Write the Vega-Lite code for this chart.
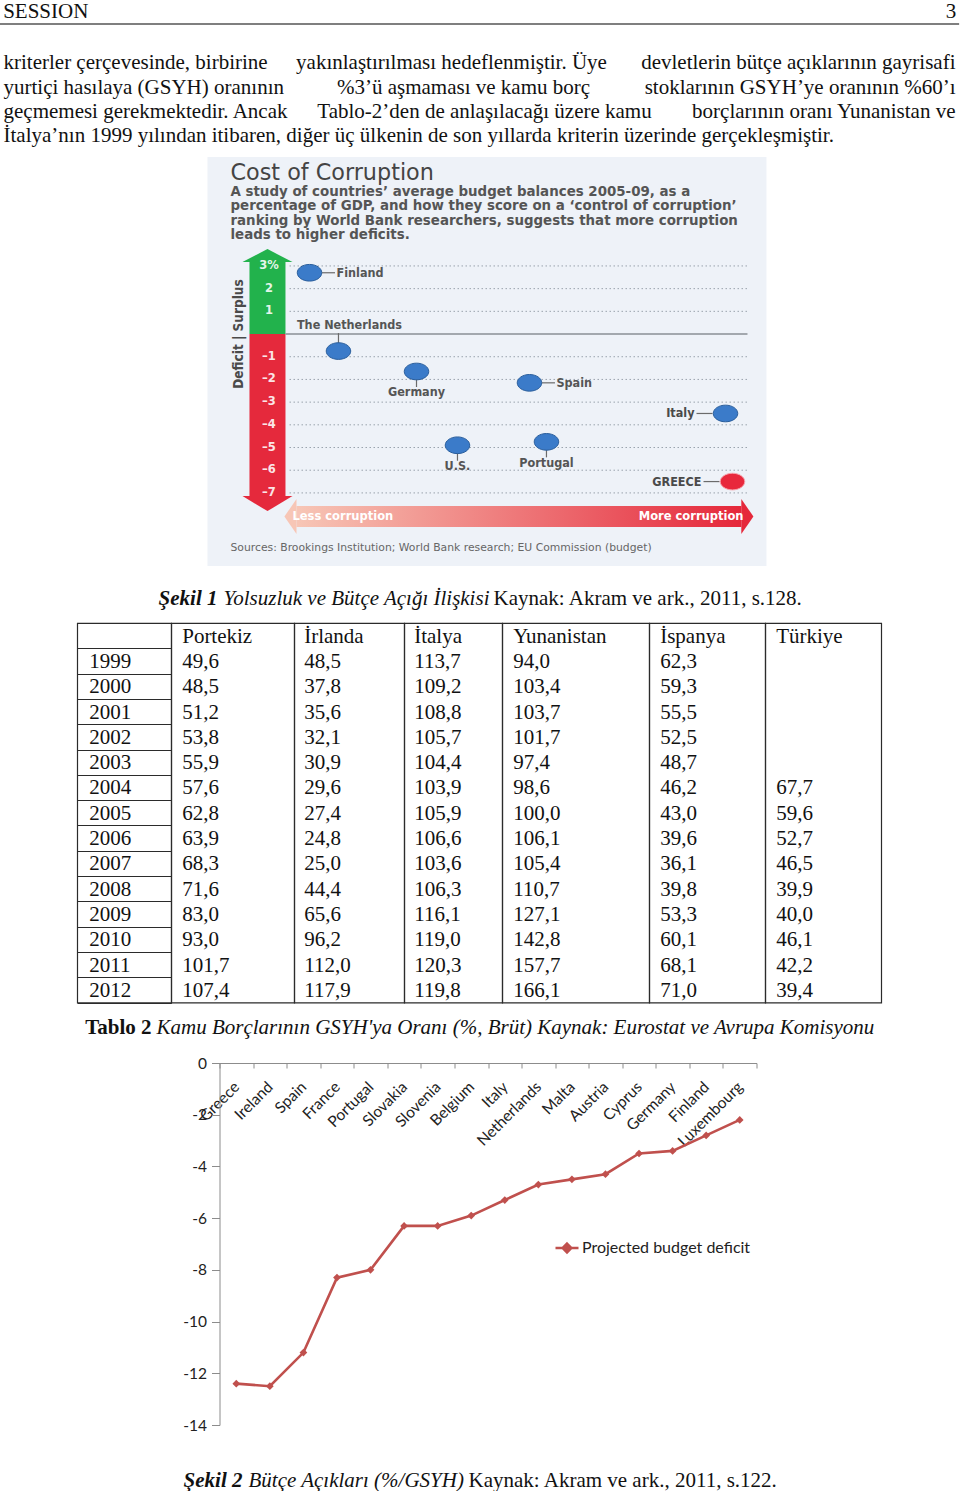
{
"$schema": "https://vega.github.io/schema/vega-lite/v6.json",
"padding": {"left": -6, "top": 0, "right": 0, "bottom": 0},
"background": "#ffffff",
"spacing": 0,
"center": true,
"config": {"view": {"stroke": null}, "locale": {"number": {"decimal": ",", "thousands": ".", "grouping": [3], "currency": ["", " TL"]}}},
"datasets": {
 "paraLeft": [
  {"line": 1, "text": "kriterler çerçevesinde, birbirine"},
  {"line": 2, "text": "yurtiçi hasılaya (GSYH) oranının"},
  {"line": 3, "text": "geçmemesi gerekmektedir. Ancak"},
  {"line": 4, "text": "İtalya’nın 1999 yılından itibaren, diğer üç ülkenin de son yıllarda kriterin üzerinde gerçekleşmiştir."}
 ],
 "paraMid": [
  {"line": 1, "text": "yakınlaştırılması hedeflenmiştir. Üye"},
  {"line": 2, "text": "%3’ü aşmaması ve kamu borç"},
  {"line": 3, "text": "Tablo-2’den de anlaşılacağı üzere kamu"}
 ],
 "paraRight": [
  {"line": 1, "text": "devletlerin bütçe açıklarının gayrisafi"},
  {"line": 2, "text": "stoklarının GSYH’ye oranının %60’ı"},
  {"line": 3, "text": "borçlarının oranı Yunanistan ve"}
 ],
 "ticks": [
  {"v": 3, "label": "3%"}, {"v": 2, "label": "2"}, {"v": 1, "label": "1"},
  {"v": -1, "label": "–1"}, {"v": -2, "label": "–2"}, {"v": -3, "label": "–3"},
  {"v": -4, "label": "–4"}, {"v": -5, "label": "–5"}, {"v": -6, "label": "–6"}, {"v": -7, "label": "–7"}
 ],
 "corr": [
  {"country": "Finland", "rank": 18.25, "balance": 2.7},
  {"country": "The Netherlands", "rank": 23.43, "balance": -0.75},
  {"country": "Germany", "rank": 37.39, "balance": -1.65},
  {"country": "U.S.", "rank": 44.72, "balance": -4.9},
  {"country": "Spain", "rank": 57.6, "balance": -2.15},
  {"country": "Portugal", "rank": 60.64, "balance": -4.75},
  {"country": "Italy", "rank": 92.67, "balance": -3.5},
  {"country": "GREECE", "rank": 93.92, "balance": -6.5}
 ],
 "debt": [
  {"year": "1999", "Portekiz": 49.6, "Irlanda": 48.5, "Italya": 113.7, "Yunanistan": 94.0, "Ispanya": 62.3},
  {"year": "2000", "Portekiz": 48.5, "Irlanda": 37.8, "Italya": 109.2, "Yunanistan": 103.4, "Ispanya": 59.3},
  {"year": "2001", "Portekiz": 51.2, "Irlanda": 35.6, "Italya": 108.8, "Yunanistan": 103.7, "Ispanya": 55.5},
  {"year": "2002", "Portekiz": 53.8, "Irlanda": 32.1, "Italya": 105.7, "Yunanistan": 101.7, "Ispanya": 52.5},
  {"year": "2003", "Portekiz": 55.9, "Irlanda": 30.9, "Italya": 104.4, "Yunanistan": 97.4, "Ispanya": 48.7},
  {"year": "2004", "Portekiz": 57.6, "Irlanda": 29.6, "Italya": 103.9, "Yunanistan": 98.6, "Ispanya": 46.2, "Turkiye": 67.7},
  {"year": "2005", "Portekiz": 62.8, "Irlanda": 27.4, "Italya": 105.9, "Yunanistan": 100.0, "Ispanya": 43.0, "Turkiye": 59.6},
  {"year": "2006", "Portekiz": 63.9, "Irlanda": 24.8, "Italya": 106.6, "Yunanistan": 106.1, "Ispanya": 39.6, "Turkiye": 52.7},
  {"year": "2007", "Portekiz": 68.3, "Irlanda": 25.0, "Italya": 103.6, "Yunanistan": 105.4, "Ispanya": 36.1, "Turkiye": 46.5},
  {"year": "2008", "Portekiz": 71.6, "Irlanda": 44.4, "Italya": 106.3, "Yunanistan": 110.7, "Ispanya": 39.8, "Turkiye": 39.9},
  {"year": "2009", "Portekiz": 83.0, "Irlanda": 65.6, "Italya": 116.1, "Yunanistan": 127.1, "Ispanya": 53.3, "Turkiye": 40.0},
  {"year": "2010", "Portekiz": 93.0, "Irlanda": 96.2, "Italya": 119.0, "Yunanistan": 142.8, "Ispanya": 60.1, "Turkiye": 46.1},
  {"year": "2011", "Portekiz": 101.7, "Irlanda": 112.0, "Italya": 120.3, "Yunanistan": 157.7, "Ispanya": 68.1, "Turkiye": 42.2},
  {"year": "2012", "Portekiz": 107.4, "Irlanda": 117.9, "Italya": 119.8, "Yunanistan": 166.1, "Ispanya": 71.0, "Turkiye": 39.4}
 ],
 "deficit": [
  {"country": "Greece", "deficit": -12.4},
  {"country": "Ireland", "deficit": -12.5},
  {"country": "Spain", "deficit": -11.2},
  {"country": "France", "deficit": -8.3},
  {"country": "Portugal", "deficit": -8.0},
  {"country": "Slovakia", "deficit": -6.3},
  {"country": "Slovenia", "deficit": -6.3},
  {"country": "Belgium", "deficit": -5.9},
  {"country": "Italy", "deficit": -5.3},
  {"country": "Netherlands", "deficit": -4.7},
  {"country": "Malta", "deficit": -4.5},
  {"country": "Austria", "deficit": -4.3},
  {"country": "Cyprus", "deficit": -3.5},
  {"country": "Germany", "deficit": -3.4},
  {"country": "Finland", "deficit": -2.8},
  {"country": "Luxembourg", "deficit": -2.2}
 ]
},
"vconcat": [
 {
  "width": 960, "height": 23,
  "data": {"values": [{}]},
  "layer": [
   {"mark": {"type": "text", "text": "SESSION", "font": "Liberation Serif", "fontSize": 21, "color": "#111111", "align": "left", "baseline": "alphabetic"}, "encoding": {"x": {"value": 4}, "y": {"value": 16.5}}},
   {"mark": {"type": "text", "text": "3", "font": "Liberation Serif", "fontSize": 21, "color": "#111111", "align": "right", "baseline": "alphabetic"}, "encoding": {"x": {"value": 957}, "y": {"value": 16.5}}},
   {"mark": {"type": "rule", "color": "#555555", "strokeWidth": 1.5}, "encoding": {"x": {"value": 0}, "x2": {"value": 960}, "y": {"value": 23}}}
  ]
 },
 {
  "width": 960, "height": 131.75,
  "layer": [
   {"data": {"name": "paraLeft"}, "mark": {"type": "text", "align": "left", "baseline": "alphabetic", "font": "Liberation Serif", "fontSize": 21, "color": "#111111"},
    "encoding": {"x": {"value": 4}, "y": {"field": "line", "type": "quantitative", "scale": {"domain": [-0.821, 4.601], "reverse": true, "nice": false, "zero": false}, "axis": null}, "text": {"field": "text"}}},
   {"data": {"name": "paraMid"}, "transform": [{"filter": "datum.line === 1"}], "mark": {"type": "text", "align": "center", "baseline": "alphabetic", "font": "Liberation Serif", "fontSize": 21, "color": "#111111"},
    "encoding": {"x": {"value": 452}, "y": {"field": "line", "type": "quantitative", "scale": {"domain": [-0.821, 4.601], "reverse": true, "nice": false, "zero": false}, "axis": null}, "text": {"field": "text"}}},
   {"data": {"name": "paraMid"}, "transform": [{"filter": "datum.line === 2"}], "mark": {"type": "text", "align": "center", "baseline": "alphabetic", "font": "Liberation Serif", "fontSize": 21, "color": "#111111"},
    "encoding": {"x": {"value": 464}, "y": {"field": "line", "type": "quantitative", "scale": {"domain": [-0.821, 4.601], "reverse": true, "nice": false, "zero": false}, "axis": null}, "text": {"field": "text"}}},
   {"data": {"name": "paraMid"}, "transform": [{"filter": "datum.line === 3"}], "mark": {"type": "text", "align": "center", "baseline": "alphabetic", "font": "Liberation Serif", "fontSize": 21, "color": "#111111"},
    "encoding": {"x": {"value": 485}, "y": {"field": "line", "type": "quantitative", "scale": {"domain": [-0.821, 4.601], "reverse": true, "nice": false, "zero": false}, "axis": null}, "text": {"field": "text"}}},
   {"data": {"name": "paraRight"}, "mark": {"type": "text", "align": "right", "baseline": "alphabetic", "font": "Liberation Serif", "fontSize": 21, "color": "#111111"},
    "encoding": {"x": {"value": 956}, "y": {"field": "line", "type": "quantitative", "scale": {"domain": [-0.821, 4.601], "reverse": true, "nice": false, "zero": false}, "axis": null}, "text": {"field": "text"}}}
  ]
 },
 {
  "width": 960, "height": 409,
  "data": {"values": [{}]},
  "layer": [
   {"mark": {"type": "rect", "fill": "#EEF2F8"},
    "encoding": {"x": {"datum": 0, "type": "quantitative", "scale": {"domain": [-37.21, 134.53], "nice": false, "zero": false}, "axis": null}, "x2": {"datum": 100},
     "y": {"datum": 7.8, "type": "quantitative", "scale": {"domain": [-10.22, 7.8], "nice": false, "zero": false}, "axis": null}, "y2": {"datum": -10.22}}},
   {"mark": {"type": "rect", "fill": "#22B24C"},
    "encoding": {"x": {"datum": 7.51, "type": "quantitative", "axis": null}, "x2": {"datum": 13.95}, "y": {"datum": 3.17, "type": "quantitative", "axis": null}, "y2": {"datum": 0}}},
   {"mark": {"type": "point", "shape": "M-1,0L1,0L0,-0.52Z", "size": 2500, "filled": true, "color": "#22B24C", "strokeWidth": 0, "opacity": 1},
    "encoding": {"x": {"datum": 10.73, "type": "quantitative", "axis": null}, "y": {"datum": 3.17, "type": "quantitative", "axis": null}}},
   {"mark": {"type": "rect", "fill": "#E5293C"},
    "encoding": {"x": {"datum": 7.51, "type": "quantitative", "axis": null}, "x2": {"datum": 13.95}, "y": {"datum": 0, "type": "quantitative", "axis": null}, "y2": {"datum": -7.14}}},
   {"mark": {"type": "point", "shape": "M-1,0L1,0L0,0.6Z", "size": 2500, "filled": true, "color": "#E5293C", "strokeWidth": 0, "opacity": 1},
    "encoding": {"x": {"datum": 10.73, "type": "quantitative", "axis": null}, "y": {"datum": -7.14, "type": "quantitative", "axis": null}}},
   {"data": {"name": "ticks"}, "mark": {"type": "rule", "color": "#9AA3AD", "strokeWidth": 1, "strokeDash": [1.5, 2.5]},
    "encoding": {"x": {"datum": 14.67, "type": "quantitative", "axis": null}, "x2": {"datum": 96.6}, "y": {"field": "v", "type": "quantitative", "axis": null}}},
   {"mark": {"type": "rule", "color": "#8A8F96", "strokeWidth": 1.5},
    "encoding": {"x": {"datum": 13.95, "type": "quantitative", "axis": null}, "x2": {"datum": 96.6}, "y": {"datum": 0, "type": "quantitative", "axis": null}}},
   {"data": {"name": "ticks"}, "mark": {"type": "text", "font": "DejaVu Sans", "fontSize": 11.5, "fontWeight": "bold", "color": "#FFFFFF", "opacity": 0.88, "align": "center", "baseline": "middle"},
    "encoding": {"x": {"datum": 11, "type": "quantitative", "axis": null}, "y": {"field": "v", "type": "quantitative", "axis": null}, "text": {"field": "label"}}},
   {"mark": {"type": "text", "text": "Deficit | Surplus", "angle": 270, "font": "Liberation Sans Narrow, DejaVu Sans Condensed, sans-serif", "fontSize": 13.5, "fontWeight": "bold", "color": "#4A4A4A", "align": "center", "baseline": "middle"},
    "encoding": {"x": {"datum": 5.72, "type": "quantitative", "axis": null}, "y": {"datum": 0, "type": "quantitative", "axis": null}}},
   {"data": {"name": "corr"}, "transform": [{"filter": {"field": "country", "oneOf": ["Finland", "Spain"]}}],
    "mark": {"type": "tick", "orient": "horizontal", "size": 13, "thickness": 1.2, "color": "#6B6B6B", "xOffset": 19, "opacity": 1},
    "encoding": {"x": {"field": "rank", "type": "quantitative", "axis": null}, "y": {"field": "balance", "type": "quantitative", "axis": null}}},
   {"data": {"name": "corr"}, "transform": [{"filter": {"field": "country", "oneOf": ["Italy", "GREECE"]}}],
    "mark": {"type": "tick", "orient": "horizontal", "size": 16, "thickness": 1.2, "color": "#6B6B6B", "xOffset": -21, "opacity": 1},
    "encoding": {"x": {"field": "rank", "type": "quantitative", "axis": null}, "y": {"field": "balance", "type": "quantitative", "axis": null}}},
   {"data": {"name": "corr"}, "transform": [{"filter": {"field": "country", "oneOf": ["Germany", "U.S.", "Portugal"]}}],
    "mark": {"type": "tick", "orient": "vertical", "size": 9, "thickness": 1.2, "color": "#6B6B6B", "yOffset": 11, "opacity": 1},
    "encoding": {"x": {"field": "rank", "type": "quantitative", "axis": null}, "y": {"field": "balance", "type": "quantitative", "axis": null}}},
   {"data": {"name": "corr"}, "transform": [{"filter": {"field": "country", "oneOf": ["The Netherlands"]}}],
    "mark": {"type": "tick", "orient": "vertical", "size": 12, "thickness": 1.2, "color": "#6B6B6B", "yOffset": -12, "opacity": 1},
    "encoding": {"x": {"field": "rank", "type": "quantitative", "axis": null}, "y": {"field": "balance", "type": "quantitative", "axis": null}}},
   {"data": {"name": "corr"},
    "mark": {"type": "point", "shape": "M-1,0A1,0.68,0,1,1,1,0A1,0.68,0,1,1,-1,0Z", "size": 600, "filled": true, "strokeWidth": 1, "opacity": 1},
    "encoding": {"x": {"field": "rank", "type": "quantitative", "axis": null}, "y": {"field": "balance", "type": "quantitative", "axis": null},
     "fill": {"condition": {"test": "datum.country === 'GREECE'", "value": "#E8283C"}, "value": "#3B7BC9"},
     "stroke": {"condition": {"test": "datum.country === 'GREECE'", "value": "#F6A3AC"}, "value": "#2A5E9C"}}},
   {"data": {"name": "corr"}, "transform": [{"filter": {"field": "country", "oneOf": ["Finland", "Spain"]}}],
    "mark": {"type": "text", "align": "left", "baseline": "middle", "dx": 27, "font": "DejaVu Sans Condensed, DejaVu Sans", "fontSize": 12.5, "fontWeight": "bold", "color": "#555555"},
    "encoding": {"x": {"field": "rank", "type": "quantitative", "axis": null}, "y": {"field": "balance", "type": "quantitative", "axis": null}, "text": {"field": "country"}}},
   {"data": {"name": "corr"}, "transform": [{"filter": {"field": "country", "oneOf": ["Italy", "GREECE"]}}],
    "mark": {"type": "text", "align": "right", "baseline": "middle", "dx": -31, "font": "DejaVu Sans Condensed, DejaVu Sans", "fontSize": 12.5, "fontWeight": "bold", "color": "#4A4A4A"},
    "encoding": {"x": {"field": "rank", "type": "quantitative", "axis": null}, "y": {"field": "balance", "type": "quantitative", "axis": null}, "text": {"field": "country"}}},
   {"data": {"name": "corr"}, "transform": [{"filter": {"field": "country", "oneOf": ["Germany", "U.S.", "Portugal"]}}],
    "mark": {"type": "text", "align": "center", "baseline": "middle", "dy": 21, "font": "DejaVu Sans Condensed, DejaVu Sans", "fontSize": 12.5, "fontWeight": "bold", "color": "#555555"},
    "encoding": {"x": {"field": "rank", "type": "quantitative", "axis": null}, "y": {"field": "balance", "type": "quantitative", "axis": null}, "text": {"field": "country"}}},
   {"data": {"name": "corr"}, "transform": [{"filter": {"field": "country", "oneOf": ["The Netherlands"]}}],
    "mark": {"type": "text", "align": "center", "baseline": "middle", "dy": -26, "dx": 11, "font": "DejaVu Sans Condensed, DejaVu Sans", "fontSize": 12.5, "fontWeight": "bold", "color": "#555555"},
    "encoding": {"x": {"field": "rank", "type": "quantitative", "axis": null}, "y": {"field": "balance", "type": "quantitative", "axis": null}, "text": {"field": "country"}}},
   {"mark": {"type": "rect", "fill": {"gradient": "linear", "x1": 0, "x2": 1, "y1": 0, "y2": 0, "stops": [{"offset": 0, "color": "#F7C6B6"}, {"offset": 1, "color": "#E5283B"}]}},
    "encoding": {"x": {"datum": 15.92, "type": "quantitative", "axis": null}, "x2": {"datum": 95.5}, "y": {"datum": -7.58, "type": "quantitative", "axis": null}, "y2": {"datum": -8.5}}},
   {"mark": {"type": "point", "shape": "M0,-1L0,1L-0.69,0Z", "size": 1225, "filled": true, "color": "#F7C6B6", "strokeWidth": 0, "opacity": 1},
    "encoding": {"x": {"datum": 15.92, "type": "quantitative", "axis": null}, "y": {"datum": -8.04, "type": "quantitative", "axis": null}}},
   {"mark": {"type": "point", "shape": "M0,-1L0,1L0.69,0Z", "size": 1225, "filled": true, "color": "#E5283B", "strokeWidth": 0, "opacity": 1},
    "encoding": {"x": {"datum": 95.5, "type": "quantitative", "axis": null}, "y": {"datum": -8.04, "type": "quantitative", "axis": null}}},
   {"mark": {"type": "text", "text": "Less corruption", "align": "left", "baseline": "middle", "font": "DejaVu Sans", "fontSize": 11.5, "fontWeight": "bold", "color": "#FFFFFF"},
    "encoding": {"x": {"datum": 15.2, "type": "quantitative", "axis": null}, "y": {"datum": -8.04, "type": "quantitative", "axis": null}}},
   {"mark": {"type": "text", "text": "More corruption", "align": "right", "baseline": "middle", "font": "DejaVu Sans", "fontSize": 11.5, "fontWeight": "bold", "color": "#FFFFFF"},
    "encoding": {"x": {"datum": 95.9, "type": "quantitative", "axis": null}, "y": {"datum": -8.04, "type": "quantitative", "axis": null}}},
   {"mark": {"type": "text", "text": "Cost of Corruption", "align": "left", "baseline": "alphabetic", "font": "DejaVu Sans", "fontSize": 22.3, "fontWeight": "normal", "color": "#444444"},
    "encoding": {"x": {"datum": 4.11, "type": "quantitative", "axis": null}, "y": {"datum": 6.79, "type": "quantitative", "axis": null}}},
   {"mark": {"type": "text", "text": ["A study of countries’ average budget balances 2005-09, as a", "percentage of GDP, and how they score on a ‘control of corruption’", "ranking by World Bank researchers, suggests that more corruption", "leads to higher deficits."], "lineHeight": 14.6, "align": "left", "baseline": "alphabetic", "font": "DejaVu Sans", "fontSize": 13.4, "fontWeight": "bold", "color": "#555555"},
    "encoding": {"x": {"datum": 4.11, "type": "quantitative", "axis": null}, "y": {"datum": 6.1, "type": "quantitative", "axis": null}}},
   {"mark": {"type": "text", "text": "Sources: Brookings Institution; World Bank research; EU Commission (budget)", "align": "left", "baseline": "alphabetic", "font": "DejaVu Sans", "fontSize": 10.8, "color": "#666666"},
    "encoding": {"x": {"datum": 4.11, "type": "quantitative", "axis": null}, "y": {"datum": -9.56, "type": "quantitative", "axis": null}}}
  ]
 },
 {
  "width": 960, "height": 56,
  "data": {"values": [{}]},
  "layer": [
   {"mark": {"type": "text", "text": "Şekil 1", "font": "Liberation Serif", "fontSize": 21, "fontStyle": "italic", "fontWeight": "bold", "align": "right", "baseline": "alphabetic", "color": "#111111"}, "encoding": {"x": {"value": 218}, "y": {"value": 39}}},
   {"mark": {"type": "text", "text": "Yolsuzluk ve Bütçe Açığı İlişkisi", "font": "Liberation Serif", "fontSize": 21, "fontStyle": "italic", "align": "left", "baseline": "alphabetic", "color": "#111111"}, "encoding": {"x": {"value": 224}, "y": {"value": 39}}},
   {"mark": {"type": "text", "text": "Kaynak: Akram ve ark., 2011, s.128.", "font": "Liberation Serif", "fontSize": 21, "align": "left", "baseline": "alphabetic", "color": "#111111"}, "encoding": {"x": {"value": 494}, "y": {"value": 39}}}
  ]
 },
 {
  "spacing": 0,
  "bounds": "flush",
  "hconcat": [
   {"width": 94, "height": 379.5, "view": {"stroke": "#2B2B2B", "strokeWidth": 1.2},
    "layer": [
     {"data": {"name": "debt"}, "mark": {"type": "text", "align": "left", "baseline": "alphabetic", "dy": 7, "font": "Liberation Serif", "fontSize": 21, "color": "#111111"},
      "encoding": {"x": {"value": 12}, "y": {"field": "year", "type": "ordinal", "scale": {"type": "band", "domain": ["h","1999","2000","2001","2002","2003","2004","2005","2006","2007","2008","2009","2010","2011","2012"], "paddingInner": 0, "paddingOuter": 0}, "axis": {"grid": true, "gridColor": "#2B2B2B", "gridWidth": 1.2, "tickBand": "extent", "labels": false, "ticks": false, "domain": false, "title": null}}, "text": {"field": "year"}}}
    ]},
   {"width": 123, "height": 379.5, "view": {"stroke": "#2B2B2B", "strokeWidth": 1.2},
    "layer": [
     {"data": {"name": "debt"}, "transform": [{"filter": "isValid(datum.Portekiz)"}], "mark": {"type": "text", "align": "left", "baseline": "alphabetic", "dy": 7, "font": "Liberation Serif", "fontSize": 21, "color": "#111111"},
      "encoding": {"x": {"value": 11}, "y": {"field": "year", "type": "ordinal", "scale": {"type": "band", "domain": ["h","1999","2000","2001","2002","2003","2004","2005","2006","2007","2008","2009","2010","2011","2012"], "paddingInner": 0, "paddingOuter": 0}, "axis": {"grid": true, "gridColor": "#2B2B2B", "gridWidth": 1.2, "tickBand": "extent", "labels": false, "ticks": false, "domain": false, "title": null}}, "text": {"field": "Portekiz", "type": "quantitative", "format": ".1f"}}},
     {"data": {"values": [{"h": "Portekiz"}]}, "mark": {"type": "text", "align": "left", "baseline": "alphabetic", "dy": 7, "font": "Liberation Serif", "fontSize": 21, "color": "#111111"},
      "encoding": {"x": {"value": 11}, "y": {"datum": "h", "type": "ordinal", "axis": null}, "text": {"field": "h"}}}
    ]},
   {"width": 110, "height": 379.5, "view": {"stroke": "#2B2B2B", "strokeWidth": 1.2},
    "layer": [
     {"data": {"name": "debt"}, "transform": [{"filter": "isValid(datum.Irlanda)"}], "mark": {"type": "text", "align": "left", "baseline": "alphabetic", "dy": 7, "font": "Liberation Serif", "fontSize": 21, "color": "#111111"},
      "encoding": {"x": {"value": 10}, "y": {"field": "year", "type": "ordinal", "scale": {"type": "band", "domain": ["h","1999","2000","2001","2002","2003","2004","2005","2006","2007","2008","2009","2010","2011","2012"], "paddingInner": 0, "paddingOuter": 0}, "axis": {"grid": true, "gridColor": "#2B2B2B", "gridWidth": 1.2, "tickBand": "extent", "labels": false, "ticks": false, "domain": false, "title": null}}, "text": {"field": "Irlanda", "type": "quantitative", "format": ".1f"}}},
     {"data": {"values": [{"h": "İrlanda"}]}, "mark": {"type": "text", "align": "left", "baseline": "alphabetic", "dy": 7, "font": "Liberation Serif", "fontSize": 21, "color": "#111111"},
      "encoding": {"x": {"value": 10}, "y": {"datum": "h", "type": "ordinal", "axis": null}, "text": {"field": "h"}}}
    ]},
   {"width": 98, "height": 379.5, "view": {"stroke": "#2B2B2B", "strokeWidth": 1.2},
    "layer": [
     {"data": {"name": "debt"}, "transform": [{"filter": "isValid(datum.Italya)"}], "mark": {"type": "text", "align": "left", "baseline": "alphabetic", "dy": 7, "font": "Liberation Serif", "fontSize": 21, "color": "#111111"},
      "encoding": {"x": {"value": 10}, "y": {"field": "year", "type": "ordinal", "scale": {"type": "band", "domain": ["h","1999","2000","2001","2002","2003","2004","2005","2006","2007","2008","2009","2010","2011","2012"], "paddingInner": 0, "paddingOuter": 0}, "axis": {"grid": true, "gridColor": "#2B2B2B", "gridWidth": 1.2, "tickBand": "extent", "labels": false, "ticks": false, "domain": false, "title": null}}, "text": {"field": "Italya", "type": "quantitative", "format": ".1f"}}},
     {"data": {"values": [{"h": "İtalya"}]}, "mark": {"type": "text", "align": "left", "baseline": "alphabetic", "dy": 7, "font": "Liberation Serif", "fontSize": 21, "color": "#111111"},
      "encoding": {"x": {"value": 10}, "y": {"datum": "h", "type": "ordinal", "axis": null}, "text": {"field": "h"}}}
    ]},
   {"width": 147, "height": 379.5, "view": {"stroke": "#2B2B2B", "strokeWidth": 1.2},
    "layer": [
     {"data": {"name": "debt"}, "transform": [{"filter": "isValid(datum.Yunanistan)"}], "mark": {"type": "text", "align": "left", "baseline": "alphabetic", "dy": 7, "font": "Liberation Serif", "fontSize": 21, "color": "#111111"},
      "encoding": {"x": {"value": 11}, "y": {"field": "year", "type": "ordinal", "scale": {"type": "band", "domain": ["h","1999","2000","2001","2002","2003","2004","2005","2006","2007","2008","2009","2010","2011","2012"], "paddingInner": 0, "paddingOuter": 0}, "axis": {"grid": true, "gridColor": "#2B2B2B", "gridWidth": 1.2, "tickBand": "extent", "labels": false, "ticks": false, "domain": false, "title": null}}, "text": {"field": "Yunanistan", "type": "quantitative", "format": ".1f"}}},
     {"data": {"values": [{"h": "Yunanistan"}]}, "mark": {"type": "text", "align": "left", "baseline": "alphabetic", "dy": 7, "font": "Liberation Serif", "fontSize": 21, "color": "#111111"},
      "encoding": {"x": {"value": 11}, "y": {"datum": "h", "type": "ordinal", "axis": null}, "text": {"field": "h"}}}
    ]},
   {"width": 116, "height": 379.5, "view": {"stroke": "#2B2B2B", "strokeWidth": 1.2},
    "layer": [
     {"data": {"name": "debt"}, "transform": [{"filter": "isValid(datum.Ispanya)"}], "mark": {"type": "text", "align": "left", "baseline": "alphabetic", "dy": 7, "font": "Liberation Serif", "fontSize": 21, "color": "#111111"},
      "encoding": {"x": {"value": 11}, "y": {"field": "year", "type": "ordinal", "scale": {"type": "band", "domain": ["h","1999","2000","2001","2002","2003","2004","2005","2006","2007","2008","2009","2010","2011","2012"], "paddingInner": 0, "paddingOuter": 0}, "axis": {"grid": true, "gridColor": "#2B2B2B", "gridWidth": 1.2, "tickBand": "extent", "labels": false, "ticks": false, "domain": false, "title": null}}, "text": {"field": "Ispanya", "type": "quantitative", "format": ".1f"}}},
     {"data": {"values": [{"h": "İspanya"}]}, "mark": {"type": "text", "align": "left", "baseline": "alphabetic", "dy": 7, "font": "Liberation Serif", "fontSize": 21, "color": "#111111"},
      "encoding": {"x": {"value": 11}, "y": {"datum": "h", "type": "ordinal", "axis": null}, "text": {"field": "h"}}}
    ]},
   {"width": 116, "height": 379.5, "view": {"stroke": "#2B2B2B", "strokeWidth": 1.2},
    "layer": [
     {"data": {"name": "debt"}, "transform": [{"filter": "isValid(datum.Turkiye)"}], "mark": {"type": "text", "align": "left", "baseline": "alphabetic", "dy": 7, "font": "Liberation Serif", "fontSize": 21, "color": "#111111"},
      "encoding": {"x": {"value": 11}, "y": {"field": "year", "type": "ordinal", "scale": {"type": "band", "domain": ["h","1999","2000","2001","2002","2003","2004","2005","2006","2007","2008","2009","2010","2011","2012"], "paddingInner": 0, "paddingOuter": 0}, "axis": {"grid": true, "gridColor": "#2B2B2B", "gridWidth": 1.2, "tickBand": "extent", "labels": false, "ticks": false, "domain": false, "title": null}}, "text": {"field": "Turkiye", "type": "quantitative", "format": ".1f"}}},
     {"data": {"values": [{"h": "Türkiye"}]}, "mark": {"type": "text", "align": "left", "baseline": "alphabetic", "dy": 7, "font": "Liberation Serif", "fontSize": 21, "color": "#111111"},
      "encoding": {"x": {"value": 11}, "y": {"datum": "h", "type": "ordinal", "axis": null}, "text": {"field": "h"}}}
    ]}
  ]
 },
 {
  "width": 960, "height": 51.8,
  "data": {"values": [{}]},
  "layer": [
   {"mark": {"type": "text", "text": "Tablo 2", "font": "Liberation Serif", "fontSize": 21, "fontWeight": "bold", "align": "right", "baseline": "alphabetic", "color": "#111111"}, "encoding": {"x": {"value": 152}, "y": {"value": 29.8}}},
   {"mark": {"type": "text", "text": "Kamu Borçlarının GSYH'ya Oranı (%, Brüt) Kaynak: Eurostat ve Avrupa Komisyonu", "font": "Liberation Serif", "fontSize": 21, "fontStyle": "italic", "align": "left", "baseline": "alphabetic", "color": "#111111"}, "encoding": {"x": {"value": 157}, "y": {"value": 29.8}}}
  ]
 },
 {
  "width": 960, "height": 362,
  "data": {"name": "deficit"},
  "mark": {"type": "line", "strokeWidth": 2.6, "point": {"shape": "diamond", "filled": true, "size": 60, "opacity": 1}},
  "encoding": {
   "x": {"field": "country", "type": "nominal", "sort": null,
    "scale": {"type": "band", "range": [220, 757], "paddingInner": 0, "paddingOuter": 0},
    "axis": {"orient": "bottom", "offset": -362, "title": null, "labelAngle": -45, "labelAlign": "right", "labelBaseline": "middle", "labelPadding": 16, "labelFont": "Lato", "labelFontSize": 15.5, "labelColor": "#222222", "labelOverlap": false, "labelBound": false, "labelFlush": false, "tickBand": "extent", "tickSize": 5, "tickColor": "#8C8C8C", "domainColor": "#8C8C8C", "grid": false}},
   "y": {"field": "deficit", "type": "quantitative",
    "scale": {"domain": [-14, 0], "nice": false, "zero": false},
    "axis": {"orient": "left", "offset": -220, "values": [0, -2, -4, -6, -8, -10, -12, -14], "labelExpr": "replace(datum.label, '−', '-')", "title": null, "tickSize": 8, "tickColor": "#8C8C8C", "domainColor": "#8C8C8C", "labelFont": "Lato", "labelFontSize": 15.5, "labelColor": "#222222", "labelPadding": 5, "grid": false, "labelFlush": false, "labelOverlap": false}},
   "color": {"datum": "Projected budget deficit", "type": "nominal", "scale": {"range": ["#C0504D"]},
    "legend": {"orient": "none", "legendX": 555, "legendY": 1234, "title": null, "labelFont": "Lato", "labelFontSize": 16, "labelColor": "#222222", "labelLimit": 400, "symbolType": "M-1,0L1,0M0,-0.38L0.38,0L0,0.38L-0.38,0Z", "symbolSize": 529, "symbolStrokeWidth": 2.5, "labelOffset": 2, "padding": 0,
     "encode": {"symbols": {"update": {"fill": {"value": "#C0504D"}, "stroke": {"value": "#C0504D"}}}}}}
  }
 },
 {
  "width": 960, "height": 56.5,
  "data": {"values": [{}]},
  "layer": [
   {"mark": {"type": "text", "text": "Şekil 2", "font": "Liberation Serif", "fontSize": 21, "fontStyle": "italic", "fontWeight": "bold", "align": "right", "baseline": "alphabetic", "color": "#111111"}, "encoding": {"x": {"value": 243}, "y": {"value": 52.5}}},
   {"mark": {"type": "text", "text": "Bütçe Açıkları (%/GSYH)", "font": "Liberation Serif", "fontSize": 21, "fontStyle": "italic", "align": "left", "baseline": "alphabetic", "color": "#111111"}, "encoding": {"x": {"value": 249}, "y": {"value": 52.5}}},
   {"mark": {"type": "text", "text": "Kaynak: Akram ve ark., 2011, s.122.", "font": "Liberation Serif", "fontSize": 21, "align": "left", "baseline": "alphabetic", "color": "#111111"}, "encoding": {"x": {"value": 469}, "y": {"value": 52.5}}}
  ]
 }
]
}
